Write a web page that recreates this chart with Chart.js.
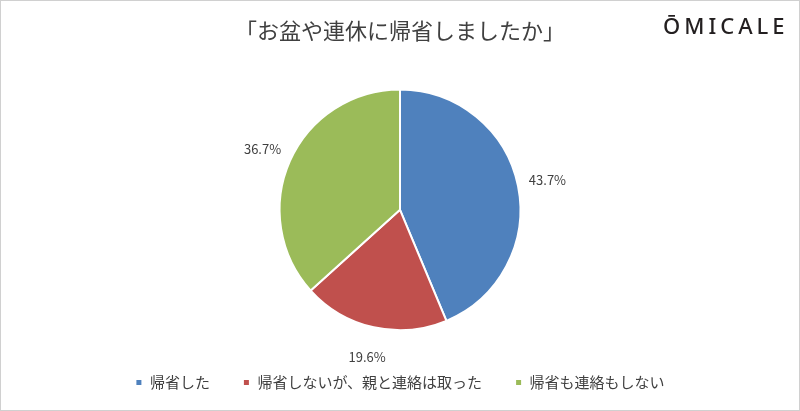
<!DOCTYPE html>
<html><head><meta charset="utf-8">
<script src="https://cdn.jsdelivr.net/npm/chart.js@4"></script>
<style>
body{margin:0;background:#fff;}
#wrap{position:relative;width:798px;height:409px;border:1px solid #d0d0d0;}
#logo{position:absolute;left:662px;top:9px;font:500 22px "Noto Sans",sans-serif;letter-spacing:4px;color:#231f20;}
</style></head>
<body><div id="wrap"><canvas id="c" width="798" height="409"></canvas><div id="logo">ŌMICALE</div></div>
<script>
const categories = ["帰省した", "帰省しないが、親と連絡は取った", "帰省も連絡もしない"];
const values = [43.7, 19.6, 36.7];
const colors = ["#4f81bd", "#c0504d", "#9bbb59"];

// percent labels outside each slice
const outsideLabels = {
  id: "outsideLabels",
  afterDatasetsDraw(chart) {
    const ctx = chart.ctx;
    ctx.save();
    ctx.font = '13px "Noto Sans CJK JP", sans-serif';
    ctx.fillStyle = "#404040";
    ctx.textAlign = "center";
    ctx.textBaseline = "middle";
    chart.getDatasetMeta(0).data.forEach((arc, i) => {
      const a = (arc.startAngle + arc.endAngle) / 2;
      const r = arc.outerRadius + 30;
      ctx.fillText(values[i].toFixed(1) + "%", arc.x + Math.cos(a) * r, arc.y + Math.sin(a) * r);
    });
    ctx.restore();
  }
};

new Chart(document.getElementById("c"), {
  type: "pie",
  data: {
    labels: categories,
    datasets: [{ data: values, backgroundColor: colors, borderColor: "#fff", borderWidth: 2 }]
  },
  options: {
    responsive: false,
    animation: false,
    layout: { padding: { top: 0, bottom: 10, left: 0, right: 0 } },
    plugins: {
      title: {
        display: true,
        text: "「お盆や連休に帰省しましたか」",
        color: "#404040",
        font: { family: "Noto Sans CJK JP", size: 22, weight: "normal" },
        padding: { top: 16, bottom: 45 }
      },
      legend: {
        position: "bottom",
        title: { display: true, text: " ", font: { size: 4 }, padding: { top: 0, bottom: 6 } },
        labels: {
          color: "#404040",
          font: { family: "Noto Sans CJK JP", size: 15 },
          usePointStyle: true, pointStyle: "rect", boxWidth: 7, boxHeight: 7, padding: 33
        }
      },
      tooltip: { enabled: false }
    }
  },
  plugins: [outsideLabels]
});
</script></body></html>
